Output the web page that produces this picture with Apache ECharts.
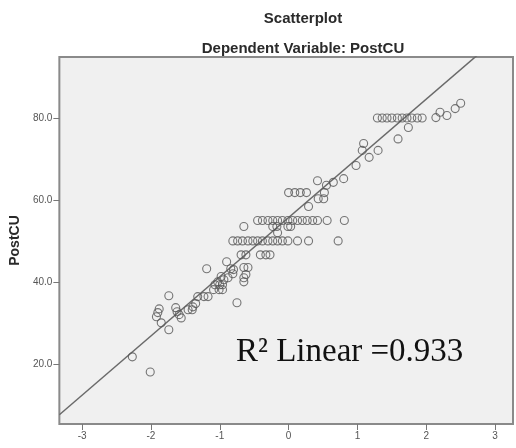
<!DOCTYPE html>
<html><head><meta charset="utf-8">
<script src="https://cdn.jsdelivr.net/npm/echarts@6/dist/echarts.min.js"></script>
<style>html,body{margin:0;padding:0;background:#fff}#c{width:516px;height:448px}</style>
</head><body><div id="c"></div>
<script>
// Regression standardized predicted value (x) vs PostCU (y)
const xTicks = [-3, -2, -1, 0, 1, 2, 3];
const yTicks = [20, 40, 60, 80];
const pointsX = [
  -2.27,-2.01,-1.92,-1.90,-1.88,-1.85,-1.74,-1.74,-1.64,-1.62,-1.59,-1.56,-1.46,-1.40,-1.39,-1.35,-1.32,-1.23,-1.17,-1.19,
  -1.09,-1.01,-0.96,-1.07,-1.00,-0.96,-1.03,-0.98,-0.94,-0.88,-0.81,-0.80,-0.90,-0.84,-0.75,-0.65,-0.59,-0.65,-0.62,-0.65,
  -0.69,-0.62,-0.41,-0.33,-0.27,-0.65,-0.23,-0.17,-0.01,0.03,-0.16,
  -0.81,-0.74,-0.67,-0.59,-0.52,-0.45,-0.38,-0.30,-0.23,-0.16,-0.09,-0.01,0.13,0.29,0.72,
  -0.45,-0.38,-0.30,-0.23,-0.16,-0.09,-0.01,0.06,0.13,0.20,0.27,0.35,0.42,0.56,0.81,
  0.00,0.09,0.17,0.26,
  0.29,0.43,0.51,0.52,0.42,0.55,0.65,0.80,
  0.98,1.09,1.07,1.17,1.30,
  1.29,1.36,1.43,1.50,1.58,1.65,1.72,1.79,1.87,1.94,
  1.59,1.74,2.14,2.20,2.30,2.42,2.50
];
const pointsY = [
  21.7,18.0,31.5,32.5,33.4,30.0,36.6,28.3,33.7,32.7,32.0,31.2,33.2,33.2,33.9,34.7,36.4,36.4,36.4,43.2,
  38.1,38.1,38.1,39.3,39.3,39.3,40.0,41.3,40.5,41.0,42.0,43.0,44.9,43.2,34.9,43.5,43.5,41.0,41.8,40.0,
  46.6,46.6,46.6,46.6,46.6,53.5,53.5,53.5,53.5,53.5,52.0,
  50,50,50,50,50,50,50,50,50,50,50,50,50,50,50,
  55,55,55,55,55,55,55,55,55,55,55,55,55,55,55,
  61.8,61.8,61.8,61.8,
  58.4,60.3,60.3,61.8,64.7,63.6,64.3,65.2,
  68.4,73.8,72.1,70.4,72.1,
  80,80,80,80,80,80,80,80,80,80,
  74.9,77.7,80.1,81.4,80.6,82.3,83.6
];
const fitIntercept = 55.7;
const fitSlope = 14.46;
const r2Label = 'R² Linear =0.933';

const xMin = -3.33, xMax = 3.26, yMin = 5.3, yMax = 94.9;
const scatterData = pointsX.map((x, i) => [x, pointsY[i]]);
const lineData = [[xMin, fitIntercept + fitSlope * xMin], [xMax, fitIntercept + fitSlope * xMax]];

const chart = echarts.init(document.getElementById('c'), null, {renderer: 'canvas'});
chart.setOption({
  animation: false,
  backgroundColor: '#ffffff',
  title: [
    {text: 'Scatterplot', left: 298, top: 6, textAlign: 'center',
     textStyle: {fontFamily: 'Liberation Sans, Arial', fontWeight: 'bold', fontSize: 15, color: '#2a2a2a'}},
    {text: 'Dependent Variable: PostCU', left: 298, top: 36, textAlign: 'center',
     textStyle: {fontFamily: 'Liberation Sans, Arial', fontWeight: 'bold', fontSize: 15, color: '#2a2a2a'}}
  ],
  grid: {left: 58, top: 57, right: 3, bottom: 24, show: true, backgroundColor: '#f0f0f0',
         borderColor: '#8a8a8a', borderWidth: 2, containLabel: false},
  xAxis: {
    type: 'value', min: xMin, max: xMax,
    axisLine: {show: false, onZero: false},
    splitLine: {show: false},
    axisTick: {show: true, length: 6, lineStyle: {color: '#777'}, customValues: xTicks},
    axisLabel: {customValues: xTicks, fontSize: 10, color: '#555', margin: 7,
                fontFamily: 'Liberation Sans, Arial', formatter: v => String(Math.round(v))}
  },
  yAxis: {
    type: 'value', min: yMin, max: yMax,
    name: 'PostCU', nameLocation: 'middle', nameGap: 36, nameRotate: 90,
    nameTextStyle: {fontFamily: 'Liberation Sans, Arial', fontWeight: 'bold', fontSize: 14, color: '#2a2a2a'},
    axisLine: {show: false, onZero: false},
    splitLine: {show: false},
    axisTick: {show: true, length: 6, lineStyle: {color: '#777'}, customValues: yTicks},
    axisLabel: {customValues: yTicks, fontSize: 10, color: '#555', margin: 7,
                fontFamily: 'Liberation Sans, Arial', formatter: v => v.toFixed(1)}
  },
  series: [
    {type: 'line', data: lineData, symbol: 'none', silent: true, clip: true,
     lineStyle: {color: '#6a6a6a', width: 1.5}, z: 1},
    {type: 'scatter', data: scatterData, symbol: 'circle', symbolSize: 8,
     itemStyle: {color: 'rgba(0,0,0,0)', borderColor: '#555', borderWidth: 1.1}, z: 2}
  ],
  graphic: [
    {type: 'text', left: 236, top: 336,
     style: {text: r2Label, font: '33px "Liberation Serif", "Times New Roman", serif', fill: '#111'}}
  ]
});
</script></body></html>
